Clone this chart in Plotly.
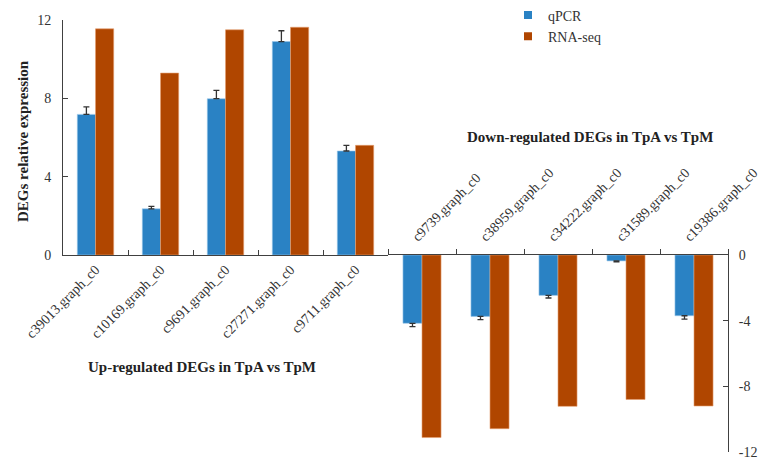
import plotly.graph_objects as go

up_genes = ["c39013.graph_c0", "c10169.graph_c0", "c9691.graph_c0", "c27271.graph_c0", "c9711.graph_c0"]
up_qpcr = [7.18, 2.36, 7.98, 10.9, 5.31]
up_qpcr_err = [0.38, 0.12, 0.43, 0.55, 0.29]
up_rnaseq = [11.55, 9.29, 11.5, 11.63, 5.6]

down_genes = ["c9739.graph_c0", "c38959.graph_c0", "c34222.graph_c0", "c31589.graph_c0", "c19386.graph_c0"]
down_qpcr = [-4.16, -3.74, -2.46, -0.36, -3.7]
down_qpcr_err = [0.2, 0.2, 0.16, 0.05, 0.2]
down_rnaseq = [-11.12, -10.58, -9.22, -8.8, -9.2]

up_ticks = [0, 4, 8, 12]
down_ticks = [-12, -8, -4, 0]
down_tick_labels = ["-12", "-8", "-4", "0"]

BLUE = "#2A82C4"
ORANGE = "#B04600"
FONT = "Liberation Serif"
W, H = 761, 459
L, R, T, B = 63, 33, 20, 7
pw, ph = W - L - R, H - T - B


def px(x):
    return (x - L) / pw


def py(y):
    return (H - B - y) / ph


split_x = px(388)
split_y = py(255)

fig = go.Figure()

err_style = dict(color="#333333", thickness=1.3, width=3)

fig.add_trace(go.Bar(x=up_genes, y=up_qpcr, name="qPCR", marker=dict(color=BLUE, line=dict(color="#9CC8EA", width=0.6)),
                     error_y=dict(type="data", symmetric=False, array=up_qpcr_err, arrayminus=[0] * len(up_qpcr_err), **err_style),
                     xaxis="x", yaxis="y", showlegend=False))
fig.add_trace(go.Bar(x=up_genes, y=up_rnaseq, name="RNA-seq", marker=dict(color=ORANGE, line=dict(color="#E6A070", width=0.6)),
                     xaxis="x", yaxis="y", showlegend=False))
fig.add_trace(go.Bar(x=down_genes, y=down_qpcr, name="qPCR", marker=dict(color=BLUE, line=dict(color="#9CC8EA", width=0.6)),
                     error_y=dict(type="data", symmetric=False, array=[0] * len(down_qpcr_err), arrayminus=down_qpcr_err, **err_style),
                     xaxis="x2", yaxis="y2", showlegend=False))
fig.add_trace(go.Bar(x=down_genes, y=down_rnaseq, name="RNA-seq", marker=dict(color=ORANGE, line=dict(color="#E6A070", width=0.6)),
                     xaxis="x2", yaxis="y2", showlegend=False))

# legend entries
for nm, col in [("qPCR", BLUE), ("RNA-seq", ORANGE)]:
    fig.add_trace(go.Scatter(x=[None], y=[None], mode="markers", name=nm,
                             marker=dict(symbol="square", size=8, color=col),
                             xaxis="x", yaxis="y", showlegend=True))

axis_line = dict(showline=True, linecolor="#404040", linewidth=1, showgrid=False, zeroline=False, automargin=False)
tick_font = dict(family=FONT, size=14, color="#333333")

fig.update_layout(
    width=W, height=H,
    margin=dict(l=L, r=R, t=T, b=B, pad=0, autoexpand=False),
    paper_bgcolor="white", plot_bgcolor="white",
    barmode="group", bargap=0.44, bargroupgap=0,
    font=dict(family=FONT, size=14, color="#333333"),
    xaxis=dict(domain=[0, split_x], anchor="y", type="category", tickangle=-45,
               ticks="inside", tickson="boundaries", ticklen=5, tickcolor="#404040",
               tickfont=tick_font, **axis_line),
    yaxis=dict(domain=[split_y, 1], anchor="x", range=[0, 12], tickvals=up_ticks,
               ticks="inside", ticklen=5, tickcolor="#404040", ticklabelstandoff=8,
               tickfont=tick_font, **axis_line),
    xaxis2=dict(domain=[split_x, 1], anchor="y2", side="top", type="category", tickangle=-45,
                ticks="outside", tickson="boundaries", ticklen=5, tickcolor="#404040",
                ticklabelshift=-9, ticklabelstandoff=4, tickfont=tick_font, **axis_line),
    yaxis2=dict(domain=[0, split_y], anchor="x2", side="right", range=[-12, 0],
                tickmode="array", tickvals=down_ticks, ticktext=down_tick_labels,
                ticks="inside", ticklen=5, tickcolor="#404040", ticklabelstandoff=7,
                ticklabeloverflow="allow", tickfont=tick_font, **axis_line),
    legend=dict(x=px(508), y=py(-0.5), xanchor="left", yanchor="top",
                font=dict(family=FONT, size=14, color="#333333"),
                bgcolor="rgba(0,0,0,0)", itemwidth=30, tracegroupgap=2),
    annotations=[
        dict(text="<b>DEGs relative expression</b>", x=px(23), y=py(141), xref="paper", yref="paper",
             textangle=-90, showarrow=False, xanchor="center", yanchor="middle",
             font=dict(family=FONT, size=15, color="#222222")),
        dict(text="<b>Up-regulated DEGs in TpA vs TpM</b>", x=px(202), y=py(366.7), xref="paper", yref="paper",
             showarrow=False, xanchor="center", yanchor="middle",
             font=dict(family=FONT, size=15, color="#222222")),
        dict(text="<b>Down-regulated DEGs in TpA vs TpM</b>", x=px(590), y=py(137.3), xref="paper", yref="paper",
             showarrow=False, xanchor="center", yanchor="middle",
             font=dict(family=FONT, size=15, color="#222222")),
    ],
)

fig.write_html("out.html", config={"displayModeBar": False},
               post_script="document.body.style.margin='0';document.body.style.overflow='hidden';")
